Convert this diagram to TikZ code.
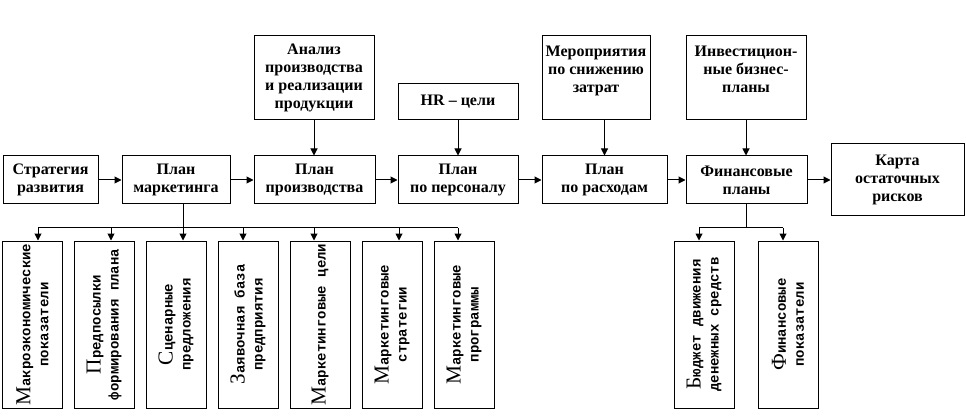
\documentclass[tikz,border=0pt]{standalone}
\usepackage{fontspec}
\setmainfont{Liberation Serif}
\newfontfamily\monof{Liberation Mono}
\newfontfamily\bigf{Liberation Serif}
\usetikzlibrary{arrows.meta}
\newcommand{\fl}[1]{{\bigf\mdseries\fontsize{16}{16}\selectfont #1}}
\begin{document}
\begin{tikzpicture}[x=0.75pt,y=-0.75pt,
  box/.style={draw, line width=0.75pt, inner sep=0pt, align=center,
    font=\bfseries\fontsize{12}{13.5}\selectfont},
  mainbox/.style={box, minimum height=36pt},
  topbox/.style={box, minimum height=63pt},
  leaf/.style={draw, line width=0.75pt, inner sep=0pt, minimum width=45pt, minimum height=125.25pt},
  vtext/.style={rotate=90, align=center, inner sep=0pt,
    font=\monof\bfseries\fontsize{10.5}{13.5}\selectfont},
  arr/.style={line width=0.75pt, -{Triangle[length=5.25pt,width=5.25pt]}},
  ln/.style={line width=0.75pt}]
\useasboundingbox (0,0) rectangle (966,420);

% main row
\node[mainbox, minimum width=71.25pt] (strat) at (50.5,180) {Стратегия\\развития};
\node[mainbox, minimum width=81pt] (mark) at (176,180) {План\\маркетинга};
\node[mainbox, minimum width=90.75pt] (prod) at (314.5,180) {План\\производства};
\node[mainbox, minimum width=90pt] (pers) at (458,180) {План\\по персоналу};
\node[mainbox, minimum width=93.75pt] (rash) at (604.5,180) {План\\по расходам};
\node[mainbox, minimum width=90.75pt] (fin) at (746.5,180) {Финансовые\\планы};
\node[box, minimum width=99.75pt, minimum height=54pt] (karta) at (897.5,180) {Карта\\остаточных\\рисков};

% top row
\node[topbox, minimum width=90pt] (anal) at (314,78) {Анализ\\производства\\и реализации\\продукции};
\node[box, minimum width=90pt, minimum height=27pt] (hr) at (458,102) {HR – цели};
\node[topbox, minimum width=81pt] (mer) at (596,78) {Мероприятия\\по снижению\\затрат\\~};
\node[topbox, minimum width=90pt] (inv) at (746,78) {Инвестицион-\\ные бизнес-\\планы\\~};

% horizontal arrows
\draw[arr] (strat) -- (mark);
\draw[arr] (mark) -- (prod);
\draw[arr] (prod) -- (pers);
\draw[arr] (pers) -- (rash);
\draw[arr] (rash) -- (fin);
\draw[arr] (fin) -- (karta);

% vertical arrows from top
\draw[arr] (anal) -- (anal |- prod.north);
\draw[arr] (hr) -- (pers);
\draw[arr] (rash.north |- mer.south) -- (rash.north);
\draw[arr] (inv) -- (inv |- fin.north);

% bottom boxes
\node[leaf] (b1) at (32.5,324.5) {};
\node[leaf] (b2) at (104,324.5) {};
\node[leaf] (b3) at (176,324.5) {};
\node[leaf] (b4) at (248,324.5) {};
\node[leaf] (b5) at (320,324.5) {};
\node[leaf] (b6) at (392,324.5) {};
\node[leaf] (b7) at (464,324.5) {};
\node[leaf] (f1) at (704,324.5) {};
\node[leaf] (f2) at (788,324.5) {};

\node[vtext] (t1) at (b1) {\fl{М}акроэкономические\\показатели};
\node[vtext] (t2) at (b2) {\fl{П}редпосылки\\формирования плана};
\node[vtext] (t3) at (b3) {\fl{С}ценарные\\предложения};
\node[vtext] (t4) at (b4) {\fl{З}аявочная база\\предприятия};
\node[vtext] (t5) at (b5) {\fl{М}аркетинговые цели};
\node[vtext] (t6) at (b6) {\fl{М}аркетинговые\\стратегии};
\node[vtext] (t7) at (b7) {\fl{М}аркетинговые\\программы};
\node[vtext] (tf1) at (f1) {\fl{Б}юджет движения\\денежных средств};
\node[vtext] (tf2) at (f2) {\fl{Ф}инансовые\\показатели};

% bus
\coordinate (bus) at (0,228);
\coordinate (a1) at ([xshift=4.125pt]b1.north);
\coordinate (a2) at ([xshift=5.25pt]b2.north);
\coordinate (a3) at ([xshift=5.25pt]b3.north);
\coordinate (a4) at ([xshift=-3.75pt]b4.north);
\coordinate (a5) at ([xshift=-4.5pt]b5.north);
\coordinate (a6) at ([xshift=5.25pt]b6.north);
\coordinate (a7) at ([xshift=-4.5pt]b7.north);
\coordinate (af1) at ([xshift=-3.75pt]f1.north);
\coordinate (af2) at ([xshift=-3.75pt]f2.north);

\draw[ln] (a3 |- mark.south) -- (a3 |- bus);
\draw[ln] (a1 |- bus) -- (a7 |- bus);
\foreach \a in {a1,a2,a3,a4,a5,a6,a7}{
  \draw[arr] (\a |- bus) -- (\a);
}
\draw[ln] (fin.south) -- (fin.south |- bus);
\draw[ln] (af1 |- bus) -- (af2 |- bus);
\draw[arr] (af1 |- bus) -- (af1);
\draw[arr] (af2 |- bus) -- (af2);
\end{tikzpicture}
\end{document}
